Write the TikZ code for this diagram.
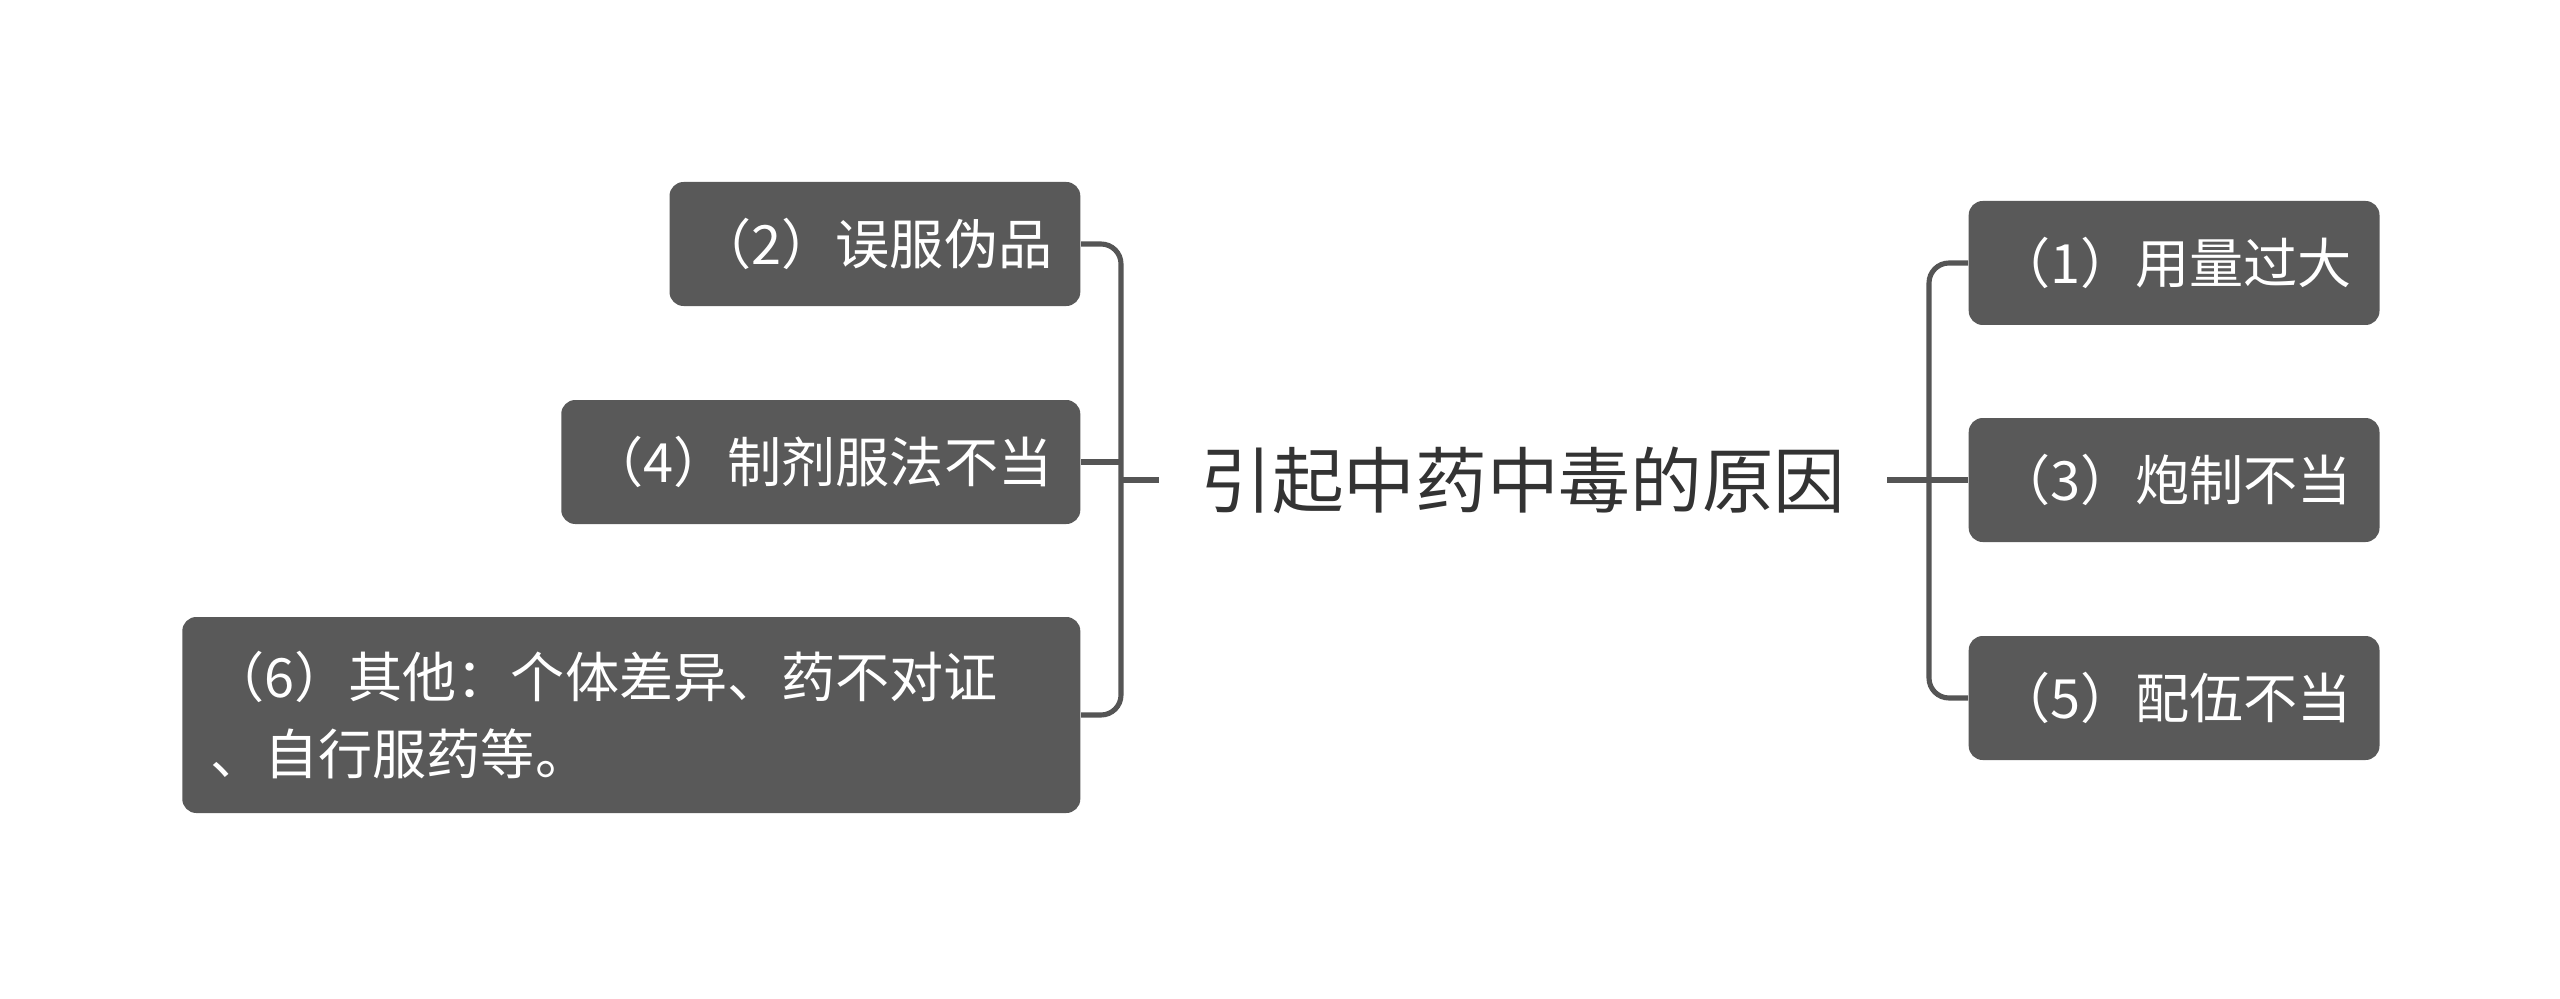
\documentclass[tikz,border=0pt]{standalone}
\usepackage{fontspec}
\usetikzlibrary{positioning}
\usepackage{xcolor}
\newfontfamily\cjk{Noto Sans CJK SC}
\definecolor{leafgray}{RGB}{89,89,89}
\definecolor{linegray}{RGB}{85,85,85}
\definecolor{titlegray}{RGB}{51,51,51}

\begin{document}
\begin{tikzpicture}[
    topic/.style={text=titlegray, inner xsep=4.1mm, inner ysep=1mm, font=\cjk\fontsize{20.4}{24}\selectfont},
    leaf/.style={fill=leafgray, rounded corners=1.4mm, text=white, inner xsep=2.8mm, minimum height=12.4mm, font=\cjk\fontsize{15.4}{21.9}\selectfont},
    branch/.style={draw=linegray, line width=1.45pt, rounded corners=2mm}
  ]
    \useasboundingbox (0,0) rectangle (25.6,9.98);

    \node[topic] (title) at (15.23,5.18) {引起中药中毒的原因};

    \node[leaf, anchor=east] (b2) at (10.81,7.54) {（2）误服伪品};
    \node[leaf, anchor=east] (b4) at (10.81,5.36) {（4）制剂服法不当};
    \node[leaf, anchor=east, minimum height=19.6mm, text width=84.2mm, align=left] (b6) at (10.81,2.83) {（6）其他：个体差异、药不对证\\、自行服药等。};

    \node[leaf, anchor=west] (b1) at (19.68,7.35) {（1）用量过大};
    \node[leaf, anchor=west] (b3) at (19.68,5.18) {（3）炮制不当};
    \node[leaf, anchor=west] (b5) at (19.68,3.00) {（5）配伍不当};

    \coordinate (jl) at (11.21,5.18);
    \coordinate (jr) at (19.29,5.18);

    \draw[branch] (b2.east) -| (jl) |- (b6.east);
    \draw[branch] (b4.east) -- (b4.east -| jl);
    \draw[branch] (jl) -- (title.west);

    \draw[branch] (b1.west) -| (jr) |- (b5.west);
    \draw[branch] (title.east) -- (b3.west);
  \end{tikzpicture}
\end{document}
